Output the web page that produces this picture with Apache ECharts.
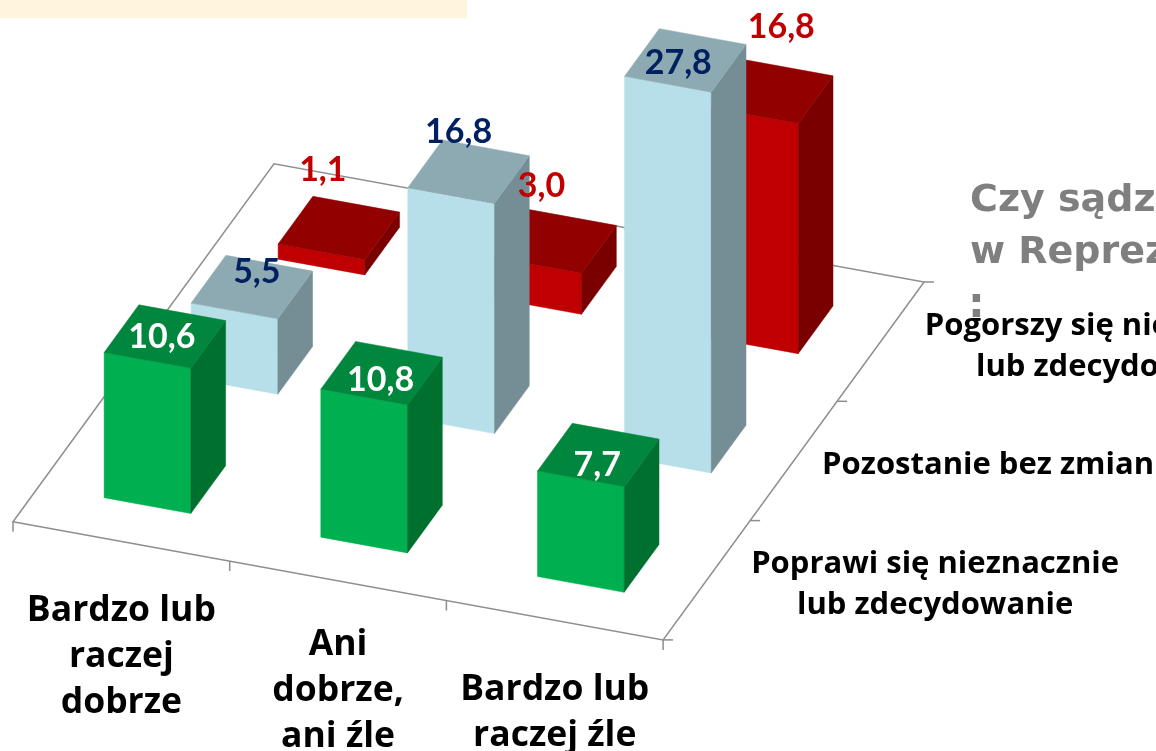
<!DOCTYPE html>
<html>
<head>
<meta charset="utf-8">
<style>html,body{margin:0;padding:0;background:#fff;overflow:hidden}#c{width:1156px;height:751px}</style>
<script src="https://cdn.jsdelivr.net/npm/echarts@6/dist/echarts.min.js"></script>
</head>
<body>
<div id="c"></div>
<script>
const categories = ['Bardzo lub\nraczej\ndobrze', 'Ani\ndobrze,\nani źle', 'Bardzo lub\nraczej źle'];
const depthLabels = ['Poprawi się nieznacznie\nlub zdecydowanie', 'Pozostanie bez zmian', 'Pogorszy się nieznacznie\nlub zdecydowanie'];
const improveValues = [10.6, 10.8, 7.7];
const sameValues = [5.5, 16.8, 27.8];
const worseValues = [1.1, 3.0, 16.8];
const titleLines = ['Czy sądzisz', 'w Reprezentacji', ':'];

// oblique 3D projection, resolved through the cartesian scales
const W = 1156, H = 751;
const UX = 216.7, UY = 13.7;
const DX = 87, DY = 119.3, SLOPE = 39.4;
const OX = 13, OY = 521.7;
function project(api, c, d, v) {
  return api.coord([
    OX / UX + c + d * DX / UX,
    (H - OY) / UY + v + (d * DY - c * SLOPE) / UY
  ]);
}
const fmt = v => v.toFixed(1).replace('.', ',');
const VALUE_FONT = 'Lato, sans-serif';
const FONT = '"Open Sans", sans-serif';
const TITLE_FONT = '"DejaVu Sans", sans-serif';

function barSeries(values, depth, cols, z) {
  return {
    type: 'custom', z, silent: true, animation: false,
    data: values.map((v, i) => [i, v]),
    renderItem(params, api) {
      const c = api.value(0), v = api.value(1);
      const c0 = c + 0.3, c1 = c + 0.7, d0 = depth + 0.3, d1 = depth + 0.7;
      const P = (a, b, h) => project(api, a, b, h);
      const poly = (pts, fill) => ({
        type: 'polygon', shape: { points: pts },
        style: { fill, stroke: fill, lineWidth: 0.5 }
      });
      return { type: 'group', children: [
        poly([P(c0, d0, 0), P(c1, d0, 0), P(c1, d0, v), P(c0, d0, v)], cols[0]),
        poly([P(c1, d0, 0), P(c1, d1, 0), P(c1, d1, v), P(c1, d0, v)], cols[2]),
        poly([P(c0, d0, v), P(c1, d0, v), P(c1, d1, v), P(c0, d1, v)], cols[1])
      ]};
    }
  };
}
function labelSeries(values, depth, color, nudges) {
  return {
    type: 'custom', z: 10, silent: true, animation: false,
    data: values.map((v, i) => [i, v]),
    renderItem(params, api) {
      const c = api.value(0), v = api.value(1);
      const p = project(api, c + 0.5, depth + 0.5, v);
      const n = nudges[params.dataIndex];
      return { type: 'text', style: {
        text: fmt(v), x: p[0] + n[0], y: p[1] + n[1],
        align: 'center', verticalAlign: 'middle',
        fontFamily: VALUE_FONT, fontWeight: 'bold', fontSize: 34, fill: color
      }};
    }
  };
}
const floorSeries = {
  type: 'custom', z: 1, silent: true, animation: false,
  data: [[0, 0]],
  renderItem(params, api) {
    const P = (a, b) => project(api, a, b, 0);
    const line = (a, b) => ({ type: 'line', shape: { x1: a[0], y1: a[1], x2: b[0], y2: b[1] },
      style: { stroke: '#8E8E8E', lineWidth: 1.5 } });
    const ch = [
      { type: 'polygon', shape: { points: [P(0,0), P(3,0), P(3,3), P(0,3)] }, style: { fill: 'none', stroke: '#8E8E8E', lineWidth: 1.5 } }
    ];
    categories.concat(['']).forEach((_, i) => {
      const a = P(i, 0); ch.push(line(a, [a[0], a[1] + 10]));
    });
    depthLabels.concat(['']).forEach((_, i) => {
      const a = P(3, i); ch.push(line(a, [a[0] + 10, a[1]]));
    });
    return { type: 'group', children: ch };
  }
};
const catLabelNudge = [69, 64, 70];
const catLabelSeries = {
  type: 'custom', z: 11, silent: true, animation: false,
  data: categories.map((_, i) => [i, 0]),
  renderItem(params, api) {
    const i = params.dataIndex, p = project(api, i + 0.5, 0, 0);
    return { type: 'text', style: {
      text: categories[i], x: p[0], y: p[1] + catLabelNudge[i] - 23,
      align: 'center', verticalAlign: 'top', lineHeight: 46,
      fontFamily: FONT, fontWeight: 'bold', fontSize: 35.5, fill: '#000'
    }};
  }
};
const depthLabelNudge = [[228.5, 4], [194.5, 4], [233.5, 5]];
const depthLabelSeries = {
  type: 'custom', z: 11, silent: true, animation: false,
  data: depthLabels.map((_, i) => [i, 0]),
  renderItem(params, api) {
    const i = params.dataIndex, p = project(api, 3, i + 0.5, 0), n = depthLabelNudge[i];
    return { type: 'text', style: {
      text: depthLabels[i], x: p[0] + n[0], y: p[1] + n[1],
      align: 'center', verticalAlign: 'middle', lineHeight: 41,
      fontFamily: FONT, fontWeight: 'bold', fontSize: 31, fill: '#000'
    }};
  }
};

const chart = echarts.init(document.getElementById('c'), null, { renderer: 'canvas' });
chart.setOption({
  backgroundColor: '#fff',
  animation: false,
  grid: { left: 0, right: 0, top: 0, bottom: 0 },
  xAxis: { type: 'value', min: 0, max: W / UX, show: false },
  yAxis: { type: 'value', min: 0, max: H / UY, show: false },
  graphic: [
    { type: 'rect', z: 0, silent: true, shape: { x: 0, y: 0, width: 467, height: 18 }, style: { fill: '#FFF5DC' } },
    { type: 'text', z: 2, silent: true, x: 970, y: 201, style: { text: titleLines[0], fontFamily: TITLE_FONT, fontWeight: 'bold', fontSize: 38, fill: '#7F7F7F', verticalAlign: 'middle' } },
    { type: 'text', z: 2, silent: true, x: 970, y: 253, style: { text: titleLines[1], fontFamily: TITLE_FONT, fontWeight: 'bold', fontSize: 38, fill: '#7F7F7F', verticalAlign: 'middle' } },
    { type: 'text', z: 2, silent: true, x: 968, y: 306, style: { text: titleLines[2], fontFamily: TITLE_FONT, fontWeight: 'bold', fontSize: 42, fill: '#7F7F7F', verticalAlign: 'middle' } }
  ],
  series: [
    floorSeries,
    barSeries(worseValues, 2, ['#C00000', '#930000', '#7A0000'], 3),
    barSeries(sameValues, 1, ['#B7DFE9', '#8DAAB2', '#758E95'], 4),
    barSeries(improveValues, 0, ['#00B050', '#00873D', '#00702F'], 5),
    labelSeries(worseValues, 2, '#C00000', [[-16, -58], [-14, -55], [9, -65]]),
    labelSeries(sameValues, 1, '#002060', [[5, -15], [-10, -40], [-7, 3]]),
    labelSeries(improveValues, 0, '#FFFFFF', [[-3, 1], [-1, 7], [-1, 10]]),
    catLabelSeries,
    depthLabelSeries
  ]
});
</script>
</body>
</html>
